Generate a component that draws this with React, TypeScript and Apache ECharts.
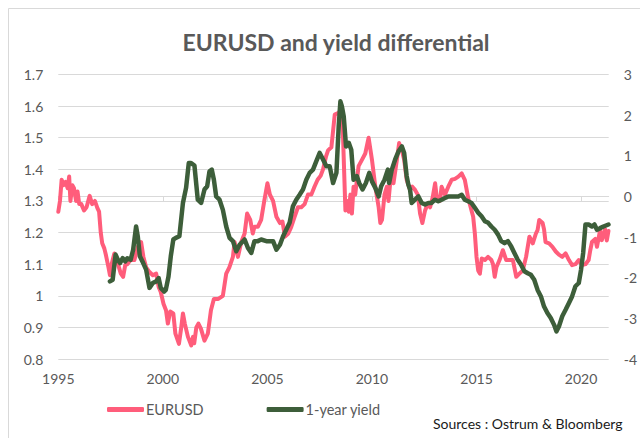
import React, { useEffect, useRef } from "react";
import * as echarts from "echarts";

const chartTitle = "EURUSD and yield differential";
const sourceNote = "Sources : Ostrum & Bloomberg";
const seriesNames = ["EURUSD", "1-year yield"];
const xTicks = [1995, 2000, 2005, 2010, 2015, 2020];

const eurusd: [number, number][] = [
  [1995.0, 1.266], [1995.08, 1.3], [1995.16, 1.367], [1995.25, 1.35], [1995.35, 1.36], [1995.45, 1.34],
  [1995.52, 1.377], [1995.58, 1.3], [1995.67, 1.35], [1995.75, 1.34], [1995.85, 1.3], [1995.92, 1.33],
  [1996.0, 1.29], [1996.1, 1.29], [1996.23, 1.27], [1996.35, 1.28], [1996.5, 1.316], [1996.62, 1.29],
  [1996.75, 1.3], [1996.87, 1.277], [1996.95, 1.266], [1997.03, 1.2], [1997.1, 1.166], [1997.2, 1.15],
  [1997.28, 1.128], [1997.4, 1.09], [1997.47, 1.065], [1997.55, 1.1], [1997.68, 1.134], [1997.8, 1.113],
  [1997.9, 1.09], [1997.99, 1.07], [1998.1, 1.06], [1998.2, 1.097], [1998.3, 1.1], [1998.45, 1.113],
  [1998.64, 1.113], [1998.8, 1.155], [1998.96, 1.17], [1999.07, 1.123], [1999.2, 1.09], [1999.36, 1.075],
  [1999.52, 1.065], [1999.68, 1.07], [1999.8, 1.028], [1999.9, 1.012], [2000.03, 0.975], [2000.15, 0.954],
  [2000.24, 0.912], [2000.35, 0.95], [2000.5, 0.944], [2000.6, 0.88], [2000.77, 0.848], [2000.88, 0.9],
  [2000.96, 0.944], [2001.05, 0.912], [2001.2, 0.87], [2001.36, 0.843], [2001.44, 0.87], [2001.5, 0.85],
  [2001.6, 0.9], [2001.7, 0.912], [2001.82, 0.896], [2001.99, 0.858], [2002.15, 0.88], [2002.3, 0.954],
  [2002.44, 0.99], [2002.65, 0.99], [2002.87, 1.0], [2003.03, 1.07], [2003.18, 1.09], [2003.35, 1.123],
  [2003.43, 1.17], [2003.59, 1.123], [2003.75, 1.17], [2003.91, 1.197], [2004.03, 1.26], [2004.18, 1.24],
  [2004.3, 1.197], [2004.38, 1.218], [2004.54, 1.218], [2004.7, 1.24], [2004.85, 1.3], [2005.0, 1.356],
  [2005.12, 1.32], [2005.27, 1.3], [2005.43, 1.25], [2005.6, 1.23], [2005.72, 1.235], [2005.84, 1.187],
  [2006.0, 1.197], [2006.14, 1.218], [2006.3, 1.25], [2006.46, 1.28], [2006.62, 1.28], [2006.78, 1.29],
  [2006.94, 1.32], [2007.1, 1.32], [2007.25, 1.345], [2007.4, 1.367], [2007.55, 1.38], [2007.66, 1.4],
  [2007.8, 1.44], [2007.9, 1.46], [2008.06, 1.47], [2008.22, 1.573], [2008.38, 1.578], [2008.5, 1.585],
  [2008.6, 1.536], [2008.73, 1.27], [2008.81, 1.3], [2008.89, 1.266], [2008.97, 1.32], [2009.04, 1.26],
  [2009.12, 1.345], [2009.2, 1.32], [2009.28, 1.367], [2009.36, 1.41], [2009.52, 1.43], [2009.68, 1.45],
  [2009.84, 1.5], [2010.0, 1.43], [2010.16, 1.345], [2010.32, 1.28], [2010.4, 1.23], [2010.48, 1.24],
  [2010.6, 1.32], [2010.71, 1.345], [2010.79, 1.3], [2010.9, 1.377], [2011.03, 1.356], [2011.19, 1.43],
  [2011.3, 1.483], [2011.43, 1.46], [2011.54, 1.43], [2011.66, 1.367], [2011.82, 1.335], [2011.93, 1.345],
  [2012.06, 1.335], [2012.19, 1.32], [2012.3, 1.26], [2012.41, 1.23], [2012.54, 1.27], [2012.66, 1.29],
  [2012.78, 1.28], [2012.9, 1.31], [2013.02, 1.356], [2013.1, 1.31], [2013.25, 1.3], [2013.33, 1.345],
  [2013.49, 1.32], [2013.65, 1.345], [2013.81, 1.367], [2013.97, 1.37], [2014.13, 1.377], [2014.29, 1.387],
  [2014.44, 1.367], [2014.6, 1.31], [2014.76, 1.27], [2014.84, 1.25], [2014.92, 1.197], [2015.0, 1.123],
  [2015.08, 1.08], [2015.16, 1.07], [2015.25, 1.118], [2015.4, 1.113], [2015.55, 1.123], [2015.71, 1.113],
  [2015.79, 1.1], [2015.87, 1.06], [2015.95, 1.09], [2016.1, 1.113], [2016.26, 1.144], [2016.42, 1.113],
  [2016.58, 1.113], [2016.74, 1.113], [2016.9, 1.06], [2017.05, 1.07], [2017.21, 1.08], [2017.37, 1.123],
  [2017.53, 1.187], [2017.69, 1.166], [2017.84, 1.197], [2017.92, 1.208], [2018.0, 1.24], [2018.16, 1.23],
  [2018.23, 1.21], [2018.3, 1.17], [2018.47, 1.166], [2018.63, 1.155], [2018.79, 1.14], [2018.94, 1.13],
  [2019.1, 1.123], [2019.26, 1.134], [2019.42, 1.113], [2019.57, 1.097], [2019.73, 1.1], [2019.89, 1.113],
  [2020.05, 1.097], [2020.21, 1.1], [2020.36, 1.113], [2020.44, 1.144], [2020.52, 1.17], [2020.68, 1.18],
  [2020.76, 1.155], [2020.91, 1.208], [2020.99, 1.176], [2021.15, 1.21], [2021.23, 1.175], [2021.31, 1.205],
];

const yieldDiff: [number, number][] = [
  [1997.47, -2.09], [1997.6, -2.05], [1997.74, -1.43], [1997.85, -1.56], [1997.95, -1.64], [1998.08, -1.52],
  [1998.2, -1.6], [1998.3, -1.52], [1998.46, -1.56], [1998.58, -1.31], [1998.72, -0.74], [1998.8, -0.98],
  [1998.9, -1.47], [1999.06, -1.64], [1999.2, -1.8], [1999.36, -2.25], [1999.52, -2.13], [1999.68, -2.09],
  [1999.8, -2.01], [1999.9, -2.25], [2000.06, -2.34], [2000.14, -2.3], [2000.27, -1.97], [2000.38, -1.47],
  [2000.5, -1.06], [2000.62, -1.02], [2000.79, -0.98], [2000.96, -0.16], [2001.11, 0.21], [2001.24, 0.82],
  [2001.35, 0.82], [2001.51, 0.76], [2001.67, -0.08], [2001.83, -0.16], [2001.99, 0.17], [2002.12, 0.25],
  [2002.23, 0.62], [2002.34, 0.66], [2002.44, 0.41], [2002.55, 0.0], [2002.71, -0.08], [2002.87, -0.33],
  [2003.03, -0.74], [2003.19, -1.02], [2003.35, -1.1], [2003.51, -1.35], [2003.67, -1.19], [2003.91, -1.06],
  [2004.07, -1.27], [2004.23, -1.39], [2004.38, -1.1], [2004.54, -1.1], [2004.7, -1.06], [2004.95, -1.1],
  [2005.11, -1.1], [2005.27, -1.1], [2005.43, -1.31], [2005.6, -1.19], [2005.75, -0.98], [2005.9, -0.82],
  [2006.06, -0.65], [2006.22, -0.24], [2006.38, -0.08], [2006.54, 0.04], [2006.7, 0.17], [2006.86, 0.41],
  [2007.02, 0.58], [2007.18, 0.66], [2007.34, 0.87], [2007.5, 1.07], [2007.66, 0.91], [2007.82, 0.74],
  [2007.98, 0.74], [2008.14, 0.33], [2008.3, 0.58], [2008.41, 1.73], [2008.49, 2.34], [2008.56, 2.22],
  [2008.65, 1.97], [2008.76, 1.23], [2008.89, 1.32], [2009.01, 1.15], [2009.12, 0.41], [2009.28, 0.5],
  [2009.39, 0.33], [2009.55, 0.17], [2009.71, 0.33], [2009.87, 0.58], [2010.0, 0.37], [2010.16, 0.21],
  [2010.32, 0.0], [2010.44, 0.25], [2010.6, 0.41], [2010.76, 0.66], [2010.82, 0.33], [2010.95, 0.66],
  [2011.11, 0.91], [2011.27, 1.11], [2011.43, 1.23], [2011.54, 1.07], [2011.66, 0.5], [2011.74, 0.29],
  [2011.82, 0.17], [2011.9, -0.16], [2012.06, -0.08], [2012.22, 0.0], [2012.38, -0.16], [2012.54, -0.2],
  [2012.7, -0.16], [2012.85, -0.16], [2013.01, -0.08], [2013.17, -0.12], [2013.33, -0.08], [2013.49, -0.04],
  [2013.65, 0.0], [2013.81, 0.0], [2013.97, 0.0], [2014.13, 0.0], [2014.29, 0.04], [2014.44, -0.08],
  [2014.6, -0.12], [2014.76, -0.16], [2014.92, -0.28], [2015.08, -0.4], [2015.24, -0.49], [2015.4, -0.61],
  [2015.56, -0.65], [2015.71, -0.74], [2015.87, -0.82], [2016.03, -0.94], [2016.18, -1.1], [2016.34, -1.15],
  [2016.5, -1.1], [2016.66, -1.23], [2016.81, -1.39], [2016.97, -1.56], [2017.13, -1.68], [2017.29, -1.84],
  [2017.45, -1.89], [2017.6, -1.93], [2017.76, -2.05], [2017.92, -2.3], [2018.08, -2.46], [2018.23, -2.71],
  [2018.39, -2.87], [2018.55, -2.99], [2018.71, -3.16], [2018.82, -3.32], [2018.94, -3.2], [2019.1, -2.95],
  [2019.26, -2.79], [2019.42, -2.62], [2019.57, -2.46], [2019.73, -2.21], [2019.89, -2.13], [2020.0, -1.8],
  [2020.1, -1.39], [2020.21, -0.69], [2020.36, -0.69], [2020.52, -0.74], [2020.64, -0.69], [2020.76, -0.82],
  [2020.91, -0.78], [2021.07, -0.74], [2021.31, -0.69],
];

const PINK = "#FF5D7B";
const GREEN = "#3D5E3A";
const GRAY_TEXT = "#595959";
const GRID = "#D9D9D9";
const FONT = "Lato, 'Open Sans', sans-serif";

export default function App() {
  const ref = useRef<HTMLDivElement>(null);
  useEffect(() => {
    if (!ref.current) return;
    const chart = echarts.init(ref.current, undefined, { renderer: "svg" });
    chart.setOption({
      animation: false,
      backgroundColor: "#ffffff",
      textStyle: { fontFamily: FONT },
      title: {
        text: chartTitle,
        left: 331,
        textAlign: "center",
        top: 25,
        textStyle: { fontFamily: FONT, fontSize: 23, fontWeight: "bold", color: GRAY_TEXT },
      },
      legend: {
        left: 102,
        top: 397,
        itemWidth: 37,
        itemHeight: 5,
        itemGap: 63,
        icon: "roundRect",
        textStyle: { fontFamily: FONT, fontSize: 14.5, color: GRAY_TEXT, padding: [0, 0, 0, -3] },
        data: seriesNames,
      },
      graphic: [
        {
          type: "rect",
          shape: { x: 8.5, y: 8.5, width: 700, height: 600 },
          style: { fill: "none", stroke: GRID, lineWidth: 1 },
          silent: true,
        },
        {
          type: "text",
          left: 433,
          top: 416,
          style: { text: sourceNote, fontFamily: FONT, fontSize: 14, fill: "#1a1a1a" },
        },
      ],
      grid: { left: 58.3, right: 28.3, top: 74.5, bottom: 79 },
      xAxis: {
        type: "value",
        min: 1995,
        max: 2021.32,
        interval: 5,
        axisLine: { show: true, lineStyle: { color: GRID, width: 1 } },
        axisTick: { show: true, length: 5, lineStyle: { color: GRID }, customValues: xTicks },
        axisLabel: {
          customValues: xTicks,
          margin: 12,
          fontFamily: FONT,
          fontSize: 14,
          color: GRAY_TEXT,
          formatter: (v: number) => String(v),
        },
        splitLine: { show: false },
      },
      yAxis: [
        {
          type: "value",
          min: 0.8,
          max: 1.7,
          interval: 0.1,
          axisLine: { show: false },
          axisTick: { show: false },
          axisLabel: {
            margin: 15,
            fontFamily: FONT,
            fontSize: 14,
            color: GRAY_TEXT,
            formatter: (v: number) => String(Math.round(v * 10) / 10),
          },
          splitLine: { show: true, lineStyle: { color: GRID, width: 1 } },
        },
        {
          type: "value",
          min: -4,
          max: 3,
          interval: 1,
          position: "right",
          axisLine: { show: false },
          axisTick: { show: false },
          axisLabel: { margin: 15, fontFamily: FONT, fontSize: 14, color: GRAY_TEXT },
          splitLine: { show: false },
        },
      ],
      series: [
        {
          name: seriesNames[0],
          type: "line",
          yAxisIndex: 0,
          data: eurusd,
          showSymbol: false,
          symbol: "none",
          color: PINK,
          lineStyle: { color: PINK, width: 4, cap: "round", join: "round" },
        },
        {
          name: seriesNames[1],
          type: "line",
          yAxisIndex: 1,
          data: yieldDiff,
          showSymbol: false,
          symbol: "none",
          color: GREEN,
          lineStyle: { color: GREEN, width: 4.5, cap: "round", join: "round" },
        },
      ],
    });
    return () => chart.dispose();
  }, []);
  return (
    <div
      ref={ref}
      style={{ position: "absolute", left: 0, top: 0, width: 640, height: 438, background: "#fff" }}
    />
  );
}
